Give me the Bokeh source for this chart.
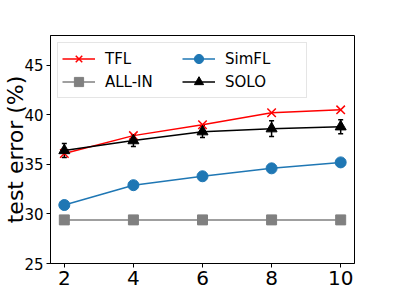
from bokeh.plotting import figure
from bokeh.models import (Range1d, Legend, LegendItem, Whisker, ColumnDataSource,
                          FixedTicker, TeeHead)
from bokeh.embed import file_html
from bokeh.resources import INLINE

# ---- data ----
clients = [2, 4, 6, 8, 10]
tfl = [36.1, 37.9, 39.0, 40.2, 40.5]
all_in = [29.4, 29.4, 29.4, 29.4, 29.4]
simfl = [30.9, 32.9, 33.8, 34.6, 35.2]
simfl_err = [0.2, 0.2, 0.2, 0.2, 0.2]
solo = [36.4, 37.4, 38.3, 38.6, 38.8]
solo_err = [0.7, 0.6, 0.6, 0.8, 0.7]
x_ticks = [2, 4, 6, 8, 10]
y_ticks = [25, 30, 35, 40, 45]
y_label = "test error (%)"

FONT = "DejaVu Sans"
RED = "#ff0000"
GRAY = "#808080"
BLUE = "#1f77b4"
BLACK = "#000000"

p = figure(width=394, height=296, output_backend="svg", toolbar_location=None,
           x_range=Range1d(1.6, 10.4), y_range=Range1d(25, 48),
           min_border_left=50, min_border_right=40, min_border_top=35, min_border_bottom=33)
p.background_fill_color = "white"
p.border_fill_color = "white"
p.outline_line_color = "black"
p.outline_line_width = 1
p.xgrid.visible = False
p.ygrid.visible = False

for ax in (p.xaxis[0], p.yaxis[0]):
    ax.axis_line_color = "black"
    ax.axis_line_width = 1
    ax.major_tick_in = 0
    ax.major_tick_out = 4
    ax.minor_tick_in = 0
    ax.minor_tick_out = 0
    ax.major_tick_line_color = "black"
    ax.major_label_text_font = FONT
    ax.major_label_text_color = "black"
    ax.major_label_standoff = 3

p.xaxis[0].ticker = FixedTicker(ticks=x_ticks)
p.yaxis[0].ticker = FixedTicker(ticks=y_ticks)
p.xaxis[0].major_label_text_font_size = "20px"
p.yaxis[0].major_label_text_font_size = "15px"

p.yaxis[0].axis_label = y_label
p.yaxis[0].axis_label_text_font = FONT
p.yaxis[0].axis_label_text_font_size = "22px"
p.yaxis[0].axis_label_text_font_style = "normal"
p.yaxis[0].axis_label_text_color = "black"
p.yaxis[0].axis_label_standoff = -7

src = ColumnDataSource(dict(
    x=clients, tfl=tfl, all_in=all_in, simfl=simfl, solo=solo,
    simfl_lo=[v - e for v, e in zip(simfl, simfl_err)],
    simfl_hi=[v + e for v, e in zip(simfl, simfl_err)],
    solo_lo=[v - e for v, e in zip(solo, solo_err)],
    solo_hi=[v + e for v, e in zip(solo, solo_err)],
))

# TFL
l_tfl = p.line("x", "tfl", source=src, line_color=RED, line_width=1.5)
m_tfl = p.scatter("x", "tfl", source=src, marker="x", size=12, line_color=RED, line_width=1.5)
# ALL-IN
l_all = p.line("x", "all_in", source=src, line_color=GRAY, line_width=1.5)
m_all = p.scatter("x", "all_in", source=src, marker="square", size=10,
                  fill_color=GRAY, line_color=GRAY)
# SimFL
w_sim = Whisker(base="x", lower="simfl_lo", upper="simfl_hi", source=src,
                line_color=BLUE, line_width=1.5,
                upper_head=TeeHead(size=5, line_color=BLUE, line_width=1.5),
                lower_head=TeeHead(size=5, line_color=BLUE, line_width=1.5))
p.add_layout(w_sim)
l_sim = p.line("x", "simfl", source=src, line_color=BLUE, line_width=1.5)
m_sim = p.scatter("x", "simfl", source=src, marker="circle", size=11,
                  fill_color=BLUE, line_color=BLUE)
# SOLO
w_solo = Whisker(base="x", lower="solo_lo", upper="solo_hi", source=src,
                 line_color=BLACK, line_width=1.5,
                 upper_head=TeeHead(size=5, line_color=BLACK, line_width=1.5),
                 lower_head=TeeHead(size=5, line_color=BLACK, line_width=1.5))
p.add_layout(w_solo)
l_solo = p.line("x", "solo", source=src, line_color=BLACK, line_width=1.5)
m_solo = p.scatter("x", "solo", source=src, marker="triangle", size=11,
                   fill_color=BLACK, line_color=BLACK)

legend = Legend(items=[
    LegendItem(label="TFL", renderers=[l_tfl, m_tfl]),
    LegendItem(label="ALL-IN", renderers=[l_all, m_all]),
    LegendItem(label="SimFL", renderers=[l_sim, m_sim]),
    LegendItem(label="SOLO", renderers=[l_solo, m_solo]),
], location="top_left", orientation="vertical", ncols=2)
legend.margin = 7
legend.padding = 4
legend.spacing = 0
legend.glyph_width = 33
legend.glyph_height = 23
legend.label_standoff = 10
legend.label_width = 77
legend.label_text_font = FONT
legend.label_text_font_size = "15px"
legend.label_text_color = "black"
legend.border_line_color = "#cccccc"
legend.border_line_width = 1
legend.background_fill_color = "white"
legend.background_fill_alpha = 0.8
p.add_layout(legend)

open("out.html", "w").write(file_html(p, INLINE))
